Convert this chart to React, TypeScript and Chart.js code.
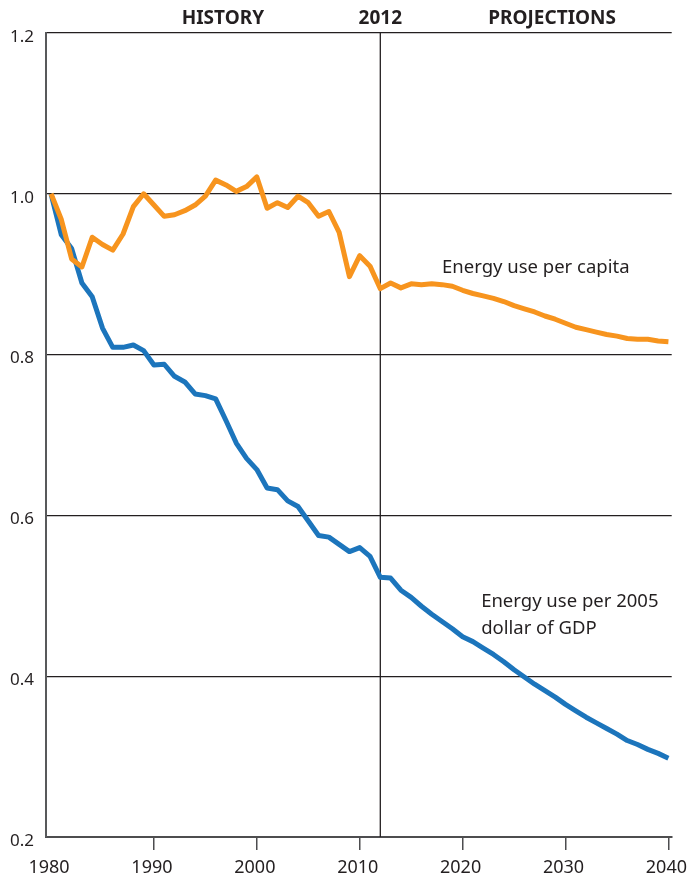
import React, { useEffect, useRef } from 'react';
import { Chart, registerables } from 'chart.js';

Chart.register(...registerables);

const years = [
  1980, 1981, 1982, 1983, 1984, 1985, 1986, 1987, 1988, 1989,
  1990, 1991, 1992, 1993, 1994, 1995, 1996, 1997, 1998, 1999,
  2000, 2001, 2002, 2003, 2004, 2005, 2006, 2007, 2008, 2009,
  2010, 2011, 2012, 2013, 2014, 2015, 2016, 2017, 2018, 2019,
  2020, 2021, 2022, 2023, 2024, 2025, 2026, 2027, 2028, 2029,
  2030, 2031, 2032, 2033, 2034, 2035, 2036, 2037, 2038, 2039,
  2040,
];

const perCapita = [
  1.000, 0.968, 0.919, 0.909, 0.946, 0.937, 0.930, 0.950, 0.984, 1.000,
  0.986, 0.972, 0.974, 0.979, 0.986, 0.997, 1.017, 1.011, 1.003, 1.009,
  1.021, 0.982, 0.989, 0.983, 0.997, 0.989, 0.972, 0.978, 0.952, 0.897,
  0.923, 0.910, 0.882, 0.889, 0.883, 0.888, 0.887, 0.888, 0.887, 0.885,
  0.880, 0.876, 0.873, 0.870, 0.866, 0.861, 0.857, 0.853, 0.848, 0.844,
  0.839, 0.834, 0.831, 0.828, 0.825, 0.823, 0.820, 0.819, 0.819, 0.817,
  0.816,
];

const perGdp = [
  1.000, 0.949, 0.932, 0.889, 0.872, 0.833, 0.809, 0.809, 0.812, 0.805,
  0.787, 0.788, 0.773, 0.766, 0.751, 0.749, 0.745, 0.718, 0.690, 0.671,
  0.657, 0.634, 0.632, 0.618, 0.611, 0.593, 0.575, 0.573, 0.564, 0.555,
  0.560, 0.549, 0.523, 0.522, 0.507, 0.498, 0.487, 0.477, 0.468, 0.459,
  0.449, 0.443, 0.435, 0.427, 0.418, 0.408, 0.399, 0.390, 0.382, 0.374,
  0.365, 0.357, 0.349, 0.342, 0.335, 0.328, 0.320, 0.315, 0.309, 0.304,
  0.298,
];

const xTicks = [1980, 1990, 2000, 2010, 2020, 2030, 2040];
const yTicks = [0.2, 0.4, 0.6, 0.8, 1.0, 1.2];

const dividerYear = 2012;
const headerLabels = [
  { text: 'HISTORY', year: 1996.7 },
  { text: '2012', year: 2012 },
  { text: 'PROJECTIONS', year: 2028.7 },
];
const seriesLabels = [
  { lines: ['Energy use per capita'], year: 2018.0, value: 0.908 },
  { lines: ['Energy use per 2005', 'dollar of GDP'], year: 2021.8, value: 0.492 },
];

const FONT = "'Noto Sans', 'Open Sans', sans-serif";
const ORANGE = '#F7941E';
const BLUE = '#1C75BC';
const INK = '#231F20';

const overlayPlugin = {
  id: 'overlay',
  beforeDatasetsDraw(chart: any) {
    const { ctx, chartArea, scales } = chart;
    const x = scales.x.getPixelForValue(dividerYear);
    ctx.save();
    ctx.strokeStyle = INK;
    ctx.lineWidth = 1.3;
    ctx.beginPath();
    ctx.moveTo(x, chartArea.top);
    ctx.lineTo(x, chartArea.bottom);
    ctx.stroke();
    ctx.restore();
  },
  afterDraw(chart: any) {
    const { ctx, scales } = chart;
    ctx.save();
    ctx.fillStyle = INK;
    ctx.textBaseline = 'middle';
    ctx.textAlign = 'center';
    ctx.font = `bold 19px ${FONT}`;
    headerLabels.forEach((h) => {
      ctx.fillText(h.text, scales.x.getPixelForValue(h.year), 19);
    });
    ctx.textAlign = 'left';
    ctx.font = `18.5px ${FONT}`;
    seriesLabels.forEach((s) => {
      const px = scales.x.getPixelForValue(s.year);
      const py = scales.y.getPixelForValue(s.value);
      s.lines.forEach((line, i) => {
        ctx.fillText(line, px, py + i * 27);
      });
    });
    ctx.restore();
  },
};

export default function App() {
  const ref = useRef<HTMLCanvasElement | null>(null);

  useEffect(() => {
    if (!ref.current) return;
    const chart = new Chart(ref.current, {
      type: 'line',
      data: {
        datasets: [
          {
            label: 'Energy use per capita',
            data: years.map((y, i) => ({ x: y, y: perCapita[i] })),
            borderColor: ORANGE,
            borderWidth: 5,
            pointRadius: 0,
            tension: 0,
            borderJoinStyle: 'round',
            fill: false,
          },
          {
            label: 'Energy use per 2005 dollar of GDP',
            data: years.map((y, i) => ({ x: y, y: perGdp[i] })),
            borderColor: BLUE,
            borderWidth: 5,
            pointRadius: 0,
            tension: 0,
            borderJoinStyle: 'round',
            fill: false,
          },
        ],
      },
      options: {
        responsive: false,
        animation: false,
        devicePixelRatio: 1,
        layout: { padding: { left: 0, top: 33, right: 19.3, bottom: 0 } },
        plugins: {
          legend: { display: false },
          tooltip: { enabled: false },
          title: { display: false },
        },
        scales: {
          x: {
            type: 'linear',
            min: 1979.51,
            max: 2040.32,
            afterBuildTicks: (scale: any) => {
              scale.ticks = xTicks.map((v) => ({ value: v }));
            },
            afterFit: (scale: any) => {
              scale.height = 43;
              scale.paddingLeft = 0;
              scale.paddingRight = 0;
            },
            border: { display: true, color: '#4D4D4F', width: 2 },
            grid: {
              drawOnChartArea: false,
              drawTicks: true,
              tickLength: 13,
              lineWidth: 1.5,
              color: (c: any) => (c.tick && c.tick.value === 1980 ? 'rgba(0,0,0,0)' : '#4D4D4F'),
            },
            ticks: {
              color: INK,
              font: { family: FONT, size: 18 },
              padding: 7,
              labelOffset: -2,
              maxRotation: 0,
              autoSkip: false,
              callback: (v: any) => String(v),
            },
          },
          y: {
            type: 'linear',
            min: 0.2,
            max: 1.2,
            afterBuildTicks: (scale: any) => {
              scale.ticks = yTicks.map((v) => ({ value: v }));
            },
            afterFit: (scale: any) => {
              scale.width = 46;
              scale.paddingTop = 0;
              scale.paddingBottom = 0;
            },
            border: { display: true, color: '#58595B', width: 2 },
            grid: {
              drawTicks: false,
              lineWidth: 1.3,
              color: (c: any) => (c.tick && Math.abs(c.tick.value - 0.2) < 1e-6 ? 'rgba(0,0,0,0)' : INK),
            },
            ticks: {
              color: INK,
              font: { family: FONT, size: 17 },
              padding: 12,
              labelOffset: 4,
              autoSkip: false,
              callback: (v: any) => Number(v).toFixed(1),
            },
          },
        },
      },
      plugins: [overlayPlugin],
    });
    return () => chart.destroy();
  }, []);

  return (
    <div style={{ position: 'absolute', left: 0, top: 0, width: 691, height: 880, background: '#fff' }}>
      <canvas ref={ref} width={691} height={880} style={{ width: 691, height: 880, display: 'block' }} />
    </div>
  );
}
